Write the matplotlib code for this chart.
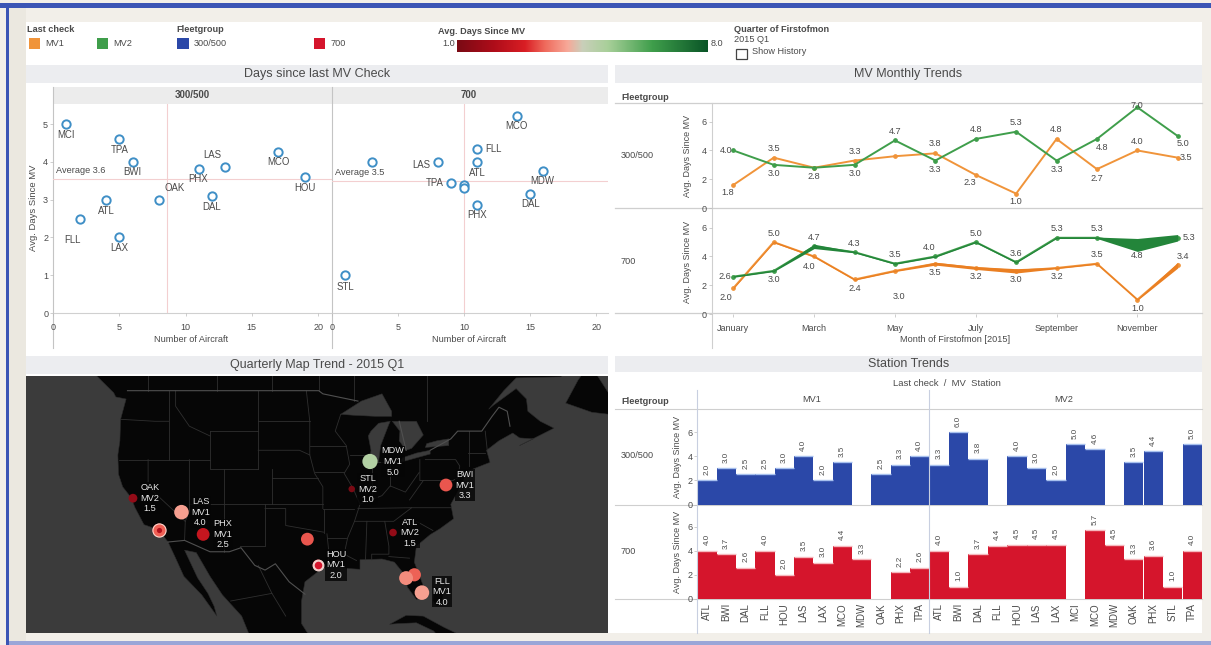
import numpy as np
import matplotlib
matplotlib.use("Agg")
import matplotlib.pyplot as plt
from matplotlib.colors import LinearSegmentedColormap
from matplotlib.patches import Rectangle, Polygon

plt.rcParams['font.family'] = ['Liberation Sans', 'DejaVu Sans']

W, H = 1211, 645
TXT = '#4a4a4a'
ORANGE, GREEN, BLUE, RED = '#f0943a', '#3f9e4b', '#2b48a8', '#d5152c'

# ---------- scatter data ----------
sc1_names = ['MCI','TPA','BWI','LAS','PHX','MCO','HOU','OAK','DAL','ATL','FLL','LAX']
sc1_x = [1,5,6,13,11,17,19,8,12,4,2,5]
sc1_y = [5.0,4.6,4.0,3.85,3.8,4.25,3.6,3.0,3.1,3.0,2.5,2.0]
sc1_off = [(0,-11),(0,-11),(0,-10),(-13,12),(-1,-10),(0,-10),(0,-11),(16,12),(0,-11),(0,-11),(-7,-21),(0,-11)]
sc2_names = ['STL','','LAS','TPA','','','FLL','ATL','PHX','MCO','MDW','DAL']
sc2_x = [1,3,8,9,10,10,11,11,11,14,16,15]
sc2_y = [1.0,4.0,4.0,3.45,3.4,3.3,4.35,4.0,2.85,5.2,3.75,3.15]
sc2_off = [(0,-12),(0,0),(-16,-3),(-16,0),(0,0),(0,0),(16,0),(0,-11),(0,-10),(0,-10),(-1,-10),(0,-10)]
sc_avg_x = [8.6, 10.0]
sc_avg_y = [3.55, 3.5]
sc_avg_lbl = ['Average 3.6', 'Average 3.5']

# ---------- monthly trend data ----------
months = ['January','February','March','April','May','June','July','August',
          'September','October','November','December']
t1_mv1 = [1.6,3.5,2.8,3.3,3.6,3.8,2.3,1.0,4.8,2.7,4.0,3.5]
t1_mv2 = [4.0,3.0,2.8,3.0,4.7,3.3,4.8,5.3,3.3,4.8,7.0,5.0]
t2_mv1 = [1.8,5.0,4.0,2.4,3.0,3.5,3.2,3.0,3.2,3.5,1.0,3.4]
t2_mv2 = [2.6,3.0,4.7,4.3,3.5,4.0,5.0,3.6,5.3,5.3,4.8,5.3]
t1_mv1_lbl = ['1.8','3.5','2.8','3.3','','3.8','2.3','1.0','4.8','2.7','4.0','3.5']
t1_mv2_lbl = ['4.0','3.0','','3.0','4.7','3.3','4.8','5.3','3.3','4.8','7.0','5.0']
t2_mv1_lbl = ['2.0','5.0','4.0','2.4','3.0','3.5','3.2','3.0','3.2','3.5','1.0','3.4']
t2_mv2_lbl = ['2.6','3.0','4.7','4.3','3.5','4.0','5.0','3.6','5.3','5.3','4.8','5.3']
t1_mv1_off = [(-6,-8),(0,9),(0,-9),(0,9),(0,0),(0,10),(-6,-8),(0,-8),(0,9),(0,-9),(0,9),(8,0)]
t1_mv2_off = [(-7,0),(0,-9),(0,0),(0,-9),(0,9),(0,-9),(0,9),(0,9),(0,-9),(5,-9),(0,2),(5,-7)]
t2_mv1_off = [(-7,-9),(0,9),(-5,-10),(0,-9),(4,-26),(0,-9),(0,-9),(0,-9),(0,-9),(0,9),(0,-9),(5,9)]
t2_mv2_off = [(-8,0),(0,-9),(0,9),(0,9),(0,9),(-6,9),(0,9),(0,9),(0,9),(0,9),(0,-11),(11,0)]
t2_mv1_w = [0.1,0.1,0.1,0.1,0.1,0.2,0.2,0.3,0.1,0.1,0.1,0.4]
t2_mv2_w = [0.1,0.1,0.3,0.1,0.1,0.1,0.1,0.1,0.1,0.1,0.9,0.45]

# ---------- station bars ----------
st_mv1 = ['ATL','BWI','DAL','FLL','HOU','LAS','LAX','MCO','MDW','OAK','PHX','TPA']
st_mv2 = ['ATL','BWI','DAL','FLL','HOU','LAS','LAX','MCI','MCO','MDW','OAK','PHX','STL','TPA']
b1_mv1 = [2.0,3.0,2.5,2.5,3.0,4.0,2.0,3.5,None,2.5,3.3,4.0]
b1_mv2 = [3.3,6.0,3.8,None,4.0,3.0,2.0,5.0,4.6,None,3.5,4.4,None,5.0]
b2_mv1 = [4.0,3.7,2.6,4.0,2.0,3.5,3.0,4.4,3.3,None,2.2,2.6]
b2_mv2 = [4.0,1.0,3.7,4.4,4.5,4.5,4.5,None,5.7,4.5,3.3,3.6,1.0,4.0]

# ---------- map data ----------
map_st = ['OAK','LAS','LAX','PHX','DAL','HOU','MDW','STL','BWI','ATL','MCO','TPA','FLL']
map_lon = [-122.2,-115.15,-118.4,-112.0,-96.85,-95.3,-87.75,-90.4,-76.7,-84.4,-81.3,-82.5,-80.2]
map_lat = [37.7,36.08,33.94,33.43,32.85,29.65,41.8,38.75,39.2,33.65,28.4,27.98,26.1]
map_val = [1.5,4.0,3.0,2.5,3.3,2.0,5.0,1.0,3.3,1.5,3.4,3.8,4.0]
map_chk = ['MV2','MV1','','MV1','','MV1','MV1','MV2','MV1','MV2','','','MV1']
map_size = [40,110,90,85,85,60,120,22,85,30,90,100,110]
map_off = [(17,0),(19,0),(0,0),(20,0),(0,0),(18,0),(23,0),(16,0),(19,0),(17,0),(0,0),(0,0),(20,1)]

land = [(-140,60),(-128,51),(-127.5,50.4),(-125,48.8),(-124.7,48.4),(-123.2,48.2),(-124,46.2),(-124.1,44),(-124.4,42.5),
        (-124.3,40.4),(-123.7,39),(-122.5,37.8),(-121.9,36.6),(-120.6,34.6),(-118.5,34),(-117.1,32.5),(-116,30.5),(-114.8,28.2),
        (-112.2,25.8),(-110,23),(-110.4,24.3),(-111.3,26),(-112.8,28),(-114.7,31.5),(-113,31.2),(-111,28.2),(-109.2,25.8),
        (-106.4,23),(-105.3,20.5),(-105,18),(-95,15),(-94,18.2),(-96,19.5),(-97.7,22),(-97.7,25),(-97.2,27.5),(-95,29),
        (-93.5,29.7),(-91,29.2),(-89.2,29.1),(-89.2,30.3),(-86,30.4),(-84.2,30),(-82.8,28.5),(-82.3,26.8),(-81,25.2),
        (-80.3,25.4),(-80,27),(-81.3,30),(-81,32),(-79,33.4),(-77.6,34.1),(-75.6,35.3),(-76,37),(-75.3,38),(-74.1,39.8),
        (-74,40.6),(-71,41.5),(-70.3,41.7),(-70.8,43),(-69,44),(-67,44.8),(-66,44.3),(-64,44.2),(-66,43.5),(-61,45.3),(-63,46),
        (-64.8,47),(-65,48.2),(-66.5,49.2),(-69.8,47.6),(-70.5,47.2),(-68.3,49),(-66.5,50.2),(-60,50.3),(-57,52),(-50,60)]
cuba = [(-84.9,21.9),(-82.5,23.1),(-80,23),(-77,21.5),(-75,20.6),(-77.5,19.9),(-78.5,21),(-81,22.1),(-83.5,22)]
bahamas = [(-78.5,26.8),(-77,26.6),(-77.2,25.2),(-78,24.3),(-78.6,25)]
newf = [(-59.3,47.8),(-55.5,46.9),(-53,46.7),(-52.8,48.5),(-55.8,51.5),(-57.5,50)]
lakes = [[(-92,46.7),(-89,48),(-86,48.7),(-84.6,47),(-84.6,46.5),(-87,46.5),(-90,46.6)],
         [(-87.8,41.7),(-86.5,41.8),(-86.2,43.5),(-85,45.7),(-84.8,46),(-86.5,45.8),(-87.6,45),(-88,44.5),(-87.6,43)],
         [(-84.5,46),(-81,46),(-80,44.6),(-81.7,43.2),(-82.5,43),(-83.5,44),(-83.4,45)],
         [(-83.4,41.7),(-79,42.6),(-79,43),(-81,42.7),(-83,42.2)],
         [(-79.7,43.3),(-76.3,43.5),(-76.3,44.2),(-78,44),(-79.5,43.7)]]
borders_main = [[(-123,49),(-95.2,49),(-94.6,48.7),(-89.5,48)],
                [(-83.5,46),(-82.5,43)],[(-79,43),(-76,44.2),(-75,45),(-71.5,45),(-70,46.5),(-69,47.4),(-67.8,47),(-67.4,45.5)],
                [(-117.1,32.5),(-114.7,32.7),(-111,31.3),(-108.2,31.3),(-106.5,31.8),(-104.5,29.6),(-103,29),(-101.5,29.8),(-99.5,27.5),(-97.2,25.9)]]
borders = [[(-124,46.2),(-119,46),(-117,46)],[(-117,49),(-117,42)],[(-124.2,42),(-111,42)],[(-120,42),(-120,39),(-114.6,35)],
           [(-114,42),(-114,36.2),(-114.6,35)],[(-114.6,35),(-114.7,32.7)],[(-109,41),(-109,31.3)],[(-114,37),(-94.6,37)],
           [(-111,45),(-104,45)],[(-111,45),(-111,41),(-104,41)],[(-116,49),(-116,47.5),(-114,45.5),(-111,44.5)],[(-104,49),(-104,41)],
           [(-104,46),(-96.5,46)],[(-104,43),(-98,43),(-96.5,42.5)],[(-102,40),(-95.3,40)],[(-102,41),(-102,37)],
           [(-103,37),(-103,32),(-106.6,32)],[(-103,36.5),(-100,36.5),(-100,34.5),(-94.5,33.7)],[(-94.5,36.5),(-94.5,33.6)],
           [(-94,33.5),(-93.7,31),(-93.8,29.7)],[(-97,49),(-96.5,46),(-96.5,42.5),(-95.8,40.5),(-94.6,39),(-94.6,36.5)],
           [(-96.5,43.5),(-91.2,43.5)],[(-95.8,40.6),(-91.5,40.6)],[(-94.6,36.5),(-90,36.5)],
           [(-92,46.7),(-92.8,45),(-91.2,43.5),(-90.7,41.5),(-91.5,40.5),(-90.2,38.8),(-89.2,37),(-90,35),(-91,33),(-91.5,31),(-89.7,30.2)],
           [(-94,33),(-91.2,33)],[(-90,35),(-84.3,35),(-81.7,36.6),(-75.9,36.6)],[(-89.5,36.5),(-81.7,36.6)],[(-88.2,35),(-88.4,30.3)],
           [(-85.6,35),(-85,32),(-85,31),(-87.5,31),(-87.5,30.3)],[(-85,30.7),(-82,30.5)],[(-83.1,35),(-81,32)],[(-81,35),(-78.6,33.9)],
           [(-89.2,37),(-86,38),(-84.8,39.1),(-82.6,38.4),(-80.6,40.6)],[(-87.5,41.7),(-87.5,38)],[(-84.8,41.7),(-84.8,39.1)],
           [(-87,41.7),(-83.4,41.7)],[(-90.6,42.5),(-87.8,42.5)],[(-80.5,42),(-80.5,39.7),(-75.7,39.7),(-75,40)],
           [(-79.7,42),(-75.3,42),(-74.7,41.3),(-75,40)],[(-82,37.5),(-80,39.7)],[(-73.3,45),(-73.3,41.3)],[(-73.5,42.7),(-71,42.7)],
           [(-71,45),(-70.7,43)],[(-110,49),(-110,52)],[(-102,49),(-102,52)],[(-95.2,49),(-95.2,52)],[(-120,49),(-120,52)],
           [(-90,48),(-90,52)],[(-79.5,46),(-79.5,52)],[(-108,25),(-102,26),(-100,23)],[(-104,29.6),(-102,26)]]

cb_cmap = LinearSegmentedColormap.from_list('rg', [(0,'#7a0a14'),(0.15,'#b00d1a'),(0.27,'#d91e24'),(0.35,'#ef6a5c'),
                                                   (0.44,'#f7a898'),(0.5,'#c9cfba'),(0.6,'#a9d09a'),(0.78,'#3f9e4b'),(1,'#0a5527')])


def px_ax(x0, y0, x1, y1, **kw):
    return fig.add_axes([x0/W, 1-y1/H, (x1-x0)/W, (y1-y0)/H], **kw)


fig = plt.figure(figsize=(W/100, H/100), dpi=100, facecolor='#f2efe9')
bg = px_ax(0, 0, W, H)
bg.set_xlim(0, W); bg.set_ylim(H, 0); bg.axis('off')


def R(x0, y0, x1, y1, c, **kw):
    bg.add_patch(Rectangle((x0, y0), x1-x0, y1-y0, fc=c, ec=kw.pop('ec', 'none'), **kw))


def T(x, y, s, size=6.6, ha='left', color=TXT, **kw):
    bg.text(x, y, s, fontsize=size, ha=ha, va='center', color=color, **kw)


# frame
R(0, 0, W, H, '#f2efe9')
R(0, 3, W, 7.5, '#3b55b5')
R(5.5, 3, 8.5, 645, '#3b55b5')
R(8.5, 641, W, 645, '#9aa6d8')
R(8.5, 7.5, 26, 641, '#ebe8e0')
R(26, 22, 1202, 633, 'white')

# legends
T(27, 30, 'Last check', weight='bold')
R(29, 38, 40, 49, ORANGE); T(45, 44, 'MV1')
R(97, 38, 108, 49, GREEN); T(113, 44, 'MV2')
T(176, 30, 'Fleetgroup', weight='bold')
R(177, 38, 189, 49, BLUE); T(194, 44, '300/500')
R(314, 38, 325, 49, RED); T(331, 44, '700')
T(438, 32, 'Avg. Days Since MV', weight='bold')
T(442, 44, '1.0'); T(711, 44, '8.0')
cax = px_ax(457, 40, 708, 52)
cax.imshow(np.linspace(0, 1, 256)[None, :], aspect='auto', cmap=cb_cmap)
cax.axis('off')
T(734, 29, 'Quarter of Firstofmon', weight='bold')
T(734, 40, '2015 Q1')
R(736, 49, 747, 59, 'white', ec='#444444', lw=0.9)
T(752, 52, 'Show History')

# title bands
for x0, y0, x1, y1, s in [(26, 65, 608, 83, 'Days since last MV Check'), (615, 65, 1202, 83, 'MV Monthly Trends'),
                          (26, 356, 608, 374, 'Quarterly Map Trend - 2015 Q1'), (615, 356, 1202, 372, 'Station Trends')]:
    R(x0, y0, x1, y1, '#ecedf0')
    T((x0+x1)/2, (y0+y1)/2, s, size=9, ha='center')


def clean(ax):
    for s in ax.spines.values():
        s.set_visible(False)
    ax.patch.set_alpha(0)
    ax.tick_params(length=2, width=0.5, color='#bbbbbb', labelsize=6.5, labelcolor=TXT, pad=1.5)


# ---- scatter panels ----
R(53, 87, 608, 104, '#ececec')
T(192, 95, '300/500', size=7, ha='center', weight='bold')
T(469, 95, '700', size=7, ha='center', weight='bold')
for xp in (53, 332):
    bg.plot([xp, xp], [87, 348], color='#c4c4c4', lw=0.8)
bg.plot([53, 608], [313, 313], color='#d0d0d0', lw=0.8)
T(34, 208, 'Avg. Days Since MV', rotation=90, ha='center', size=6.8)
T(191, 339, 'Number of Aircraft', ha='center', size=6.6)
T(469, 339, 'Number of Aircraft', ha='center', size=6.6)
for k, (x0, xs, ys, nm, off) in enumerate([(53, sc1_x, sc1_y, sc1_names, sc1_off), (332, sc2_x, sc2_y, sc2_names, sc2_off)]):
    ax = px_ax(x0, 104, x0+276 if k else x0+279, 313)
    clean(ax)
    ax.set_xlim(0, 20.9 if k else 21.05); ax.set_ylim(0, 5.53)
    ax.set_xticks([0, 5, 10, 15, 20])
    if k == 0:
        ax.set_yticks([0, 1, 2, 3, 4, 5])
    else:
        ax.set_yticks([])
    ax.tick_params(axis='x', pad=5)
    ax.axvline(sc_avg_x[k], color='#f3cfd0', lw=0.8)
    ax.axhline(sc_avg_y[k], color='#f3cfd0', lw=0.8)
    ax.scatter(xs, ys, s=36, facecolors='white', edgecolors='#3f8fc6', linewidths=1.4, zorder=3)
    for x, y, n, o in zip(xs, ys, nm, off):
        if n:
            ax.annotate(n, (x, y), xytext=o, textcoords='offset pixels', fontsize=6.9, color=TXT, ha='center', va='center')
    ax.annotate(sc_avg_lbl[k], (0, sc_avg_y[k]), xytext=(3, 8), textcoords='offset pixels', fontsize=6.6, color=TXT, va='center')

# ---- trend panels ----
T(621, 97, 'Fleetgroup', weight='bold')
T(621, 155, '300/500')
T(621, 261, '700')
T(955, 339, 'Month of Firstofmon [2015]', ha='center', size=6.6)
for yy in (103, 208, 313):
    bg.plot([615, 1202], [yy, yy], color='#cfcfcf', lw=0.9)
bg.plot([711.5, 711.5], [103, 348], color='#cfcfcf', lw=0.8)
xm = np.arange(12)
for k, (mv1, mv2, l1, l2, o1, o2, top, bot) in enumerate([
        (t1_mv1, t1_mv2, t1_mv1_lbl, t1_mv2_lbl, t1_mv1_off, t1_mv2_off, 103, 208),
        (t2_mv1, t2_mv2, t2_mv1_lbl, t2_mv2_lbl, t2_mv1_off, t2_mv2_off, 209, 314)]):
    ax = px_ax(711.5, top, 1202, bot)
    clean(ax)
    ax.set_xlim(-0.54, 11.6); ax.set_ylim(0, 7.3)
    ax.set_yticks([0, 2, 4, 6])
    T(688, (top+bot)/2, 'Avg. Days Since MV', rotation=90, ha='center', size=6.5)
    if k == 1:
        ax.set_xticks(xm[::2]); ax.set_xticklabels(months[::2], fontsize=6.5)
        ax.tick_params(axis='x', pad=5)
    else:
        ax.set_xticks([])
    for vals, col, labs, off in ((mv1, ORANGE, l1, o1), (mv2, GREEN, l2, o2)):
        ax.plot(xm, vals, color=col, lw=1.4, marker='o', ms=2.4, zorder=3)
        for x, v, s, o in zip(xm, vals, labs, off):
            if s:
                ax.annotate(s, (x, v), xytext=o, textcoords='offset pixels', fontsize=6.6, color=TXT, ha='center', va='center', zorder=5)
    if k == 1:
        ax.fill_between(xm, np.array(mv1)-np.array(t2_mv1_w)/2, np.array(mv1)+np.array(t2_mv1_w)/2, color='#ea7f22', lw=0, zorder=3)
        ax.fill_between(xm, np.array(mv2)-np.array(t2_mv2_w)/2, np.array(mv2)+np.array(t2_mv2_w)/2, color='#23853a', lw=0, zorder=3)

# ---- map ----
def merc(lat):
    return np.degrees(np.log(np.tan(np.pi/4 + np.radians(np.asarray(lat, float))/2)))


def xy(pts):
    p = np.array(pts, float)
    return np.column_stack([p[:, 0], merc(p[:, 1])])


mp = px_ax(26, 376, 608, 633)
mp.set_xlim(-137.75, -53.15); mp.set_ylim(21.19, 58.5)
mp.set_xticks([]); mp.set_yticks([]); mp.set_facecolor('#3b3b3b')
for s in mp.spines.values():
    s.set_visible(False)
for shape in (land, cuba, bahamas, newf):
    mp.add_patch(Polygon(xy(shape), fc='#060606', ec='#2c2c2c', lw=0.4))
for lk in lakes:
    mp.add_patch(Polygon(xy(lk), fc='#3b3b3b', ec='#2c2c2c', lw=0.4))
for b in borders:
    p = xy(b); mp.plot(p[:, 0], p[:, 1], color='#2f2f2f', lw=0.6)
for b in borders_main:
    p = xy(b); mp.plot(p[:, 0], p[:, 1], color='#505050', lw=0.8)
mx, my = np.array(map_lon), merc(map_lat)
norm_v = (np.array(map_val)-1)/7
mp.scatter(mx, my, s=map_size, c=cb_cmap(norm_v), linewidths=0, zorder=5)
for st, ring, dot in (('LAX', '#ffd9d0', '#b2101c'), ('HOU', '#f5d6d2', '#d5152c')):
    i = map_st.index(st)
    mp.scatter(mx[i], my[i], s=map_size[i], facecolors='#f06055' if st == 'LAX' else '#f3d4d0', edgecolors=ring, linewidths=0.8, zorder=6)
    mp.scatter(mx[i], my[i], s=14 if st == 'LAX' else 30, c=dot, linewidths=0, zorder=7)
for x, y, n, c, v, o in zip(mx, my, map_st, map_chk, map_val, map_off):
    if c:
        mp.annotate(f'{n}\n{c}\n{v:.1f}', (x, y), xytext=o, textcoords='offset pixels', fontsize=6.6, color='#e8e8e8',
                    ha='center', va='center', linespacing=1.22, zorder=8,
                    bbox=dict(fc='#050505', ec='none', pad=0.6, alpha=0.8))

# ---- bars ----
T(947, 384, 'Last check  /  MV  Station', ha='center', size=6.8)
T(621, 401, 'Fleetgroup', weight='bold')
T(812, 400, 'MV1', ha='center'); T(1064, 400, 'MV2', ha='center')
T(621, 456, '300/500'); T(621, 551, '700')
for yy in (409, 504.5, 599):
    bg.plot([615, 1202], [yy, yy], color='#cfcfcf', lw=0.8)
n1, n2 = len(st_mv1), len(st_mv2)
sts = st_mv1 + st_mv2
x_left = np.arange(n1)
x_right = n1 + np.arange(n2) * ((1202-929.3)/n2) / ((929.3-697.4)/n1)
xs_all = np.r_[x_left, x_right]
unit = (929.3-697.4)/n1
xmax = x_right[-1] + 0.5 * (((1202-929.3)/n2)/unit)
for k, (v1, v2, col, edge, top, bot) in enumerate([(b1_mv1, b1_mv2, BLUE, '#a7c0ee', 409, 504.5), (b2_mv1, b2_mv2, RED, '#f5b8bd', 505, 599)]):
    ax = px_ax(697.4, top, 1202, bot)
    clean(ax)
    ax.set_xlim(-0.5, xmax); ax.set_ylim(0, (bot-top)/12.05)
    ax.set_yticks([0, 2, 4, 6])
    T(678, (top+bot)/2, 'Avg. Days Since MV', rotation=90, ha='center', size=6.5)
    vals = v1 + v2
    for x, v in zip(xs_all, vals):
        if v is None:
            continue
        ax.bar(x, v, width=1.0, color=col, lw=0, zorder=2)
        ax.hlines(v, x-0.5, x+0.5, color=edge, lw=1.0, zorder=3)
        ax.annotate(f'{v:.1f}', (x, v), xytext=(0, 4), textcoords='offset points', rotation=90, fontsize=5.8,
                    color=TXT, ha='center', va='bottom', zorder=4)
    if k == 1:
        ax.set_xticks(xs_all); ax.set_xticklabels(sts, rotation=90, fontsize=7)
        ax.tick_params(axis='x', length=0, pad=3)
    else:
        ax.set_xticks([])
for xp in (697.4, 929.3):
    bg.plot([xp, xp], [390, 633], color='#c8c8c8', lw=0.8, zorder=0)
    fig.add_artist(plt.Line2D([xp/W, xp/W], [1-390/H, 1-633/H], color='#c8cfe0', lw=0.8, zorder=10))

fig.savefig('out.png', dpi=100, facecolor=fig.get_facecolor())
